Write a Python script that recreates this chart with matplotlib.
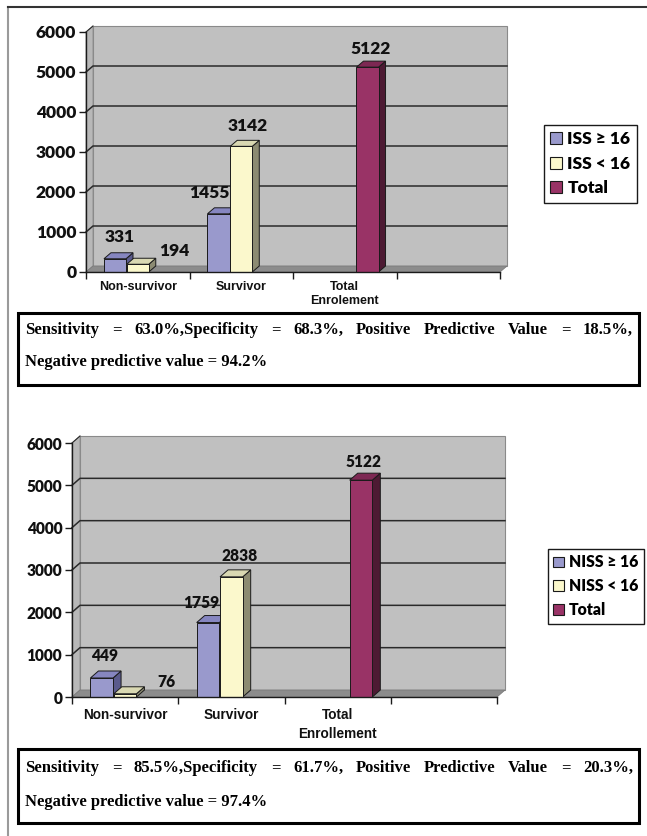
import matplotlib
matplotlib.use("Agg")
import matplotlib.pyplot as plt
from matplotlib.patches import Polygon, Rectangle, Patch
from matplotlib.lines import Line2D

W, H, DPI = 647, 836, 100

# Chart data
categories_iss = ["Non-survivor", "Survivor", "Total\nEnrolement", ""]
categories_niss = ["Non-survivor", "Survivor", "Total\nEnrollement", ""]
series_iss = ["ISS \u2265 16", "ISS < 16", "Total"]
series_niss = ["NISS \u2265 16", "NISS < 16", "Total"]

iss_ge16 = [331, 1455, None, None]
iss_lt16 = [194, 3142, None, None]
iss_total = [None, None, 5122, None]

niss_ge16 = [449, 1759, None, None]
niss_lt16 = [76, 2838, None, None]
niss_total = [None, None, 5122, None]

y_ticks = [0, 1000, 2000, 3000, 4000, 5000, 6000]

stats_iss = ["Sensitivity = 63.0%,Specificity = 68.3%, Positive Predictive Value = 18.5%,",
             "Negative predictive value = 94.2%"]
stats_niss = ["Sensitivity = 85.5%,Specificity = 61.7%, Positive Predictive Value = 20.3%,",
              "Negative predictive value = 97.4%"]

# value label offsets from the bar's top centre, in pixels
nudge_iss = [[(5, 22), (-9, 21), None, None],
             [(37, 13), (6, 20), None, None],
             [None, None, (3, 18), None]]
nudge_niss = [[(3, 22), (-7, 20), None, None],
              [(41, 12), (8, 21), None, None],
              [None, None, (3, 18), None]]

# (front, top, side) colours for each series
COLORS = [("#9999cc", "#8686c0", "#5a5a8c"),
          ("#fbf8cc", "#d9d8b2", "#8c8b72"),
          ("#993366", "#7d2853", "#4d1a33")]

SLOT = 0.22
BAR_W = 0.213
SANS = ["Lato", "DejaVu Sans"]


def fx(px):
    return px / W


def fy(py):
    return 1 - py / H


def draw_chart(fig, box, depth, cats, names, values, nudges, tick_size, cat_size,
               cat_pad, cat_spacing, legend_xy, legend_size):
    left, top, right, bottom = box
    ax = fig.add_axes([fx(left), fy(bottom), fx(right - left), (bottom - top) / H])
    ax.set_xlim(0, 4)
    ax.set_ylim(0, 6000)
    ax.patch.set_visible(False)
    ddx = depth[0] * 4 / (right - left)
    ddy = depth[1] * 6000 / (bottom - top)

    # walls and floor
    ax.add_patch(Rectangle((ddx, ddy), 4, 6000, fc="#c0c0c0", ec="#8a8a8a", lw=0.8,
                           clip_on=False, zorder=0))
    ax.add_patch(Polygon([(0, 0), (ddx, ddy), (ddx, 6000 + ddy), (0, 6000)],
                         fc="#b8b8b8", ec="#8a8a8a", lw=0.6, clip_on=False, zorder=0))
    ax.add_patch(Polygon([(0, 0), (4, 0), (4 + ddx, ddy), (ddx, ddy)],
                         fc="#8c8c8c", ec="#7a7a7a", lw=0.6, clip_on=False, zorder=1))
    for v in y_ticks[1:-1]:
        ax.plot([0, ddx, 4 + ddx], [v, v + ddy, v + ddy], color="#2a2a2a", lw=1.1,
                clip_on=False, zorder=1)
    ax.plot([0, ddx], [6000, 6000 + ddy], color="#2a2a2a", lw=0.8, clip_on=False, zorder=1)

    # bars with pseudo 3D faces
    z = 3.0
    for i, vals in enumerate(values):
        front, topc, side = COLORS[i]
        for j, v in enumerate(vals):
            if v is None:
                continue
            xc = j + 0.5 + (i - 1) * SLOT
            l, r = xc - BAR_W / 2, xc + BAR_W / 2
            ax.add_patch(Polygon([(r, 0), (r + ddx, ddy), (r + ddx, v + ddy), (r, v)],
                                 fc=side, ec="#1a1a1a", lw=0.7, zorder=z, clip_on=False))
            ax.add_patch(Polygon([(l, v), (r, v), (r + ddx, v + ddy), (l + ddx, v + ddy)],
                                 fc=topc, ec="#1a1a1a", lw=0.7, zorder=z, clip_on=False))
            ax.bar(xc, v, BAR_W, color=front, edgecolor="#1a1a1a", lw=0.7, zorder=z + 0.05)
            z += 0.1
            ax.annotate(str(v), (xc, v), xytext=nudges[i][j], textcoords="offset pixels",
                        ha="center", va="center", fontsize=tick_size, fontweight="heavy",
                        family=SANS, color="#111111", zorder=10, annotation_clip=False)

    for s in ("top", "right"):
        ax.spines[s].set_visible(False)
    for s in ("left", "bottom"):
        ax.spines[s].set_color("#1a1a1a")
        ax.spines[s].set_linewidth(1.0)
        ax.spines[s].set_zorder(6)

    ax.set_yticks(y_ticks)
    ax.set_yticklabels([str(t) for t in y_ticks], fontsize=tick_size, fontweight="heavy",
                       family=SANS, color="#111111")
    ax.tick_params(axis="y", length=5, width=1, pad=2, color="#1a1a1a")

    ax.set_xticks(range(5))
    ax.set_xticklabels([])
    ax.tick_params(axis="x", which="major", length=5, width=1, color="#1a1a1a")
    ax.set_xticks([0.5, 1.5, 2.5, 3.5], minor=True)
    ax.set_xticklabels(cats, minor=True, fontsize=cat_size, fontweight="bold",
                       family="Liberation Sans", color="#111111")
    ax.tick_params(axis="x", which="minor", length=0, pad=cat_pad)
    for lab in ax.get_xticklabels(minor=True):
        lab.set_linespacing(cat_spacing)

    handles = [Patch(facecolor=c[0], edgecolor="#1a1a1a", lw=0.8) for c in COLORS]
    leg = fig.legend(handles, names, loc="upper left",
                     bbox_to_anchor=(fx(legend_xy[0]), fy(legend_xy[1])),
                     bbox_transform=fig.transFigure, borderaxespad=0, fancybox=False,
                     edgecolor="#1a1a1a", framealpha=1, borderpad=0.35,
                     handlelength=0.7, handleheight=0.7, handletextpad=0.3,
                     labelspacing=0.5,
                     prop={"family": SANS, "weight": "heavy", "size": legend_size})
    leg.get_frame().set_linewidth(1.0)
    return ax


def stats_box(fig, rect, lines, line_y, size):
    x0, y0, x1, y1 = rect
    fig.add_artist(Rectangle((fx(x0), fy(y1)), fx(x1 - x0), (y1 - y0) / H,
                             transform=fig.transFigure, fill=False, ec="black", lw=2.2))
    renderer = fig.canvas.get_renderer()
    font = dict(family="Liberation Serif", weight="bold", size=size, color="black",
                va="center", ha="left")
    tx0, tx1 = x0 + 7, x1 - 6
    # first line is justified across the box
    words = lines[0].split(" ")
    texts = [fig.text(0, fy(line_y[0]), w, **font) for w in words]
    widths = [t.get_window_extent(renderer).width for t in texts]
    gap = (tx1 - tx0 - sum(widths)) / (len(words) - 1)
    x = tx0
    for t, w in zip(texts, widths):
        t.set_x(fx(x))
        x += w + gap
    fig.text(fx(tx0), fy(line_y[1]), lines[1], **font)


fig = plt.figure(figsize=(W / DPI, H / DPI), dpi=DPI)
fig.patch.set_facecolor("white")

# outer frame
fig.add_artist(Line2D([fx(8), fx(8)], [fy(7), 0], color="#9a9a9a", lw=1.5,
                      transform=fig.transFigure))
fig.add_artist(Line2D([fx(8), 1], [fy(7), fy(7)], color="#333333", lw=1.5,
                      transform=fig.transFigure))

draw_chart(fig, (86, 32, 500, 272), (7, 6), categories_iss, series_iss,
           [iss_ge16, iss_lt16, iss_total], nudge_iss, 12.5, 9.0, 6.5, 1.2,
           (544, 125), 12.5)
draw_chart(fig, (72, 443, 497, 697), (8, 7), categories_niss, series_niss,
           [niss_ge16, niss_lt16, niss_total], nudge_niss, 11.2, 9.8, 8, 1.45,
           (548, 549), 11.3)

stats_box(fig, (18, 313, 639, 385), stats_iss, (330, 362), 12)
stats_box(fig, (18, 749, 639, 823), stats_niss, (768, 802), 12)

fig.savefig("out.png", dpi=DPI)
